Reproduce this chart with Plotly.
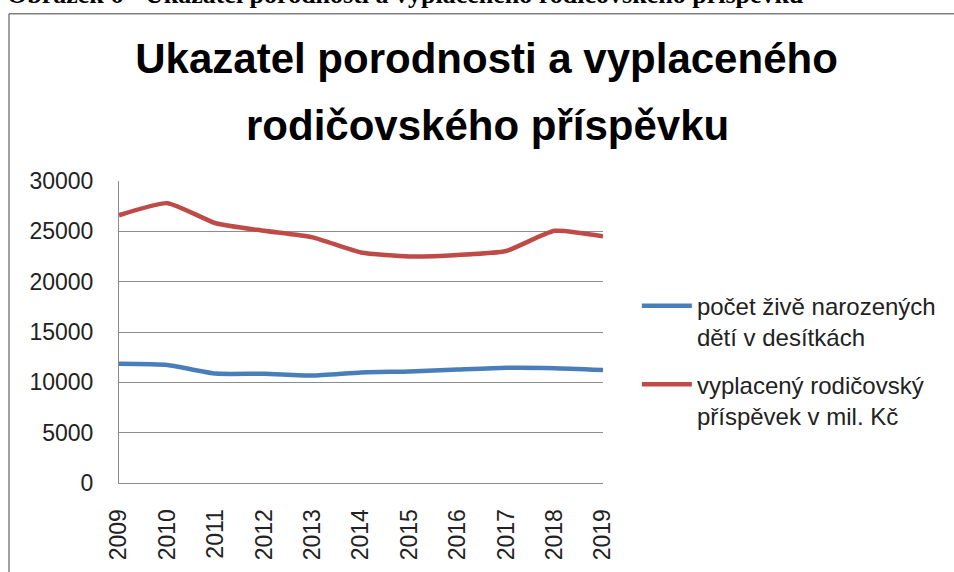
import plotly.graph_objects as go

years = ["2009", "2010", "2011", "2012", "2013", "2014", "2015", "2016", "2017", "2018", "2019"]

# births in tens
births = [11835, 11715, 10867, 10858, 10675, 10986, 11076, 11266, 11441, 11404, 11223]
# parental allowance paid, mil. CZK
allowance = [26600, 27800, 25800, 25050, 24400, 22900, 22500, 22650, 23050, 25050, 24500]

series_names = [
    "počet živě narozených<br>dětí v desítkách",
    "vyplacený rodičovský<br>příspěvek v mil. Kč",
]
y_ticks = [0, 5000, 10000, 15000, 20000, 25000, 30000]

BLUE = "#4A7EBB"
RED = "#BE4B48"
GRID = "#8C8C8C"

fig = go.Figure()
fig.add_trace(go.Scatter(
    x=years, y=births, name=series_names[0], mode="lines", legendgroup="births",
    line=dict(color=BLUE, width=4.5, shape="spline", smoothing=0.5),
))
fig.add_trace(go.Scatter(
    x=years, y=allowance, name=series_names[1], mode="lines", legendgroup="allowance",
    line=dict(color=RED, width=4.5, shape="spline", smoothing=0.5),
))

# outer frame of the chart object (only top and left edge are visible)
fig.add_shape(type="line", xref="paper", yref="paper",
              x0=-0.2273, x1=1.8, y0=1.5534, y1=1.5534,
              line=dict(color="#808080", width=1.5))
fig.add_shape(type="line", xref="paper", yref="paper",
              x0=-0.2273, x1=-0.2273, y0=1.5534, y1=-0.4,
              line=dict(color="#808080", width=1.5))

# document caption, cut off by the top edge
fig.add_annotation(
    text="<b>Obrázek 6 - Ukazatel porodnosti a vyplaceného rodičovského příspěvku</b>",
    xref="paper", yref="paper", x=-0.235, y=1.563, xanchor="left", yanchor="bottom",
    showarrow=False, font=dict(family="Liberation Serif", size=26, color="#000000"),
)

# second line of the chart title (wider line spacing than plotly's <br>)
fig.add_annotation(
    text="<b>rodičovského příspěvku</b>",
    xref="paper", yref="paper", x=(487 - 119) / 484, y=(490 - 124) / 309,
    xanchor="center", yanchor="middle", showarrow=False,
    font=dict(family="Liberation Sans", size=42, color="#000000"),
)

fig.update_layout(
    width=954, height=572,
    paper_bgcolor="white", plot_bgcolor="white",
    margin=dict(l=119, r=351, t=181, b=82),
    title=dict(
        text="<b>Ukazatel porodnosti a vyplaceného</b>",
        x=0.51, xref="container", xanchor="center",
        y=1 - 58 / 572, yref="container", yanchor="middle",
        font=dict(family="Liberation Sans", size=42, color="#000000"),
    ),
    font=dict(family="Liberation Sans", color="#333333"),
    xaxis=dict(
        type="category", tickangle=-90, showgrid=False,
        showline=True, linecolor=GRID, linewidth=1,
        tickfont=dict(size=23, color="#222222"), ticks="", ticklabelstandoff=16,
    ),
    yaxis=dict(
        range=[0, 30000], tickvals=y_ticks, tickformat="d",
        showgrid=True, gridcolor=GRID, gridwidth=1,
        showline=True, linecolor=GRID, linewidth=1, zeroline=False,
        tickfont=dict(size=23, color="#222222"), ticks="", ticklabelstandoff=20,
    ),
    legend=dict(
        x=1.07, y=0.66, xanchor="left", yanchor="top",
        font=dict(size=24, color="#222222"),
        itemwidth=50, tracegroupgap=13, valign="top",
    ),
    showlegend=True,
)

fig.write_html("out.html", config={"displayModeBar": False},
               post_script="document.body.style.margin='0';")
